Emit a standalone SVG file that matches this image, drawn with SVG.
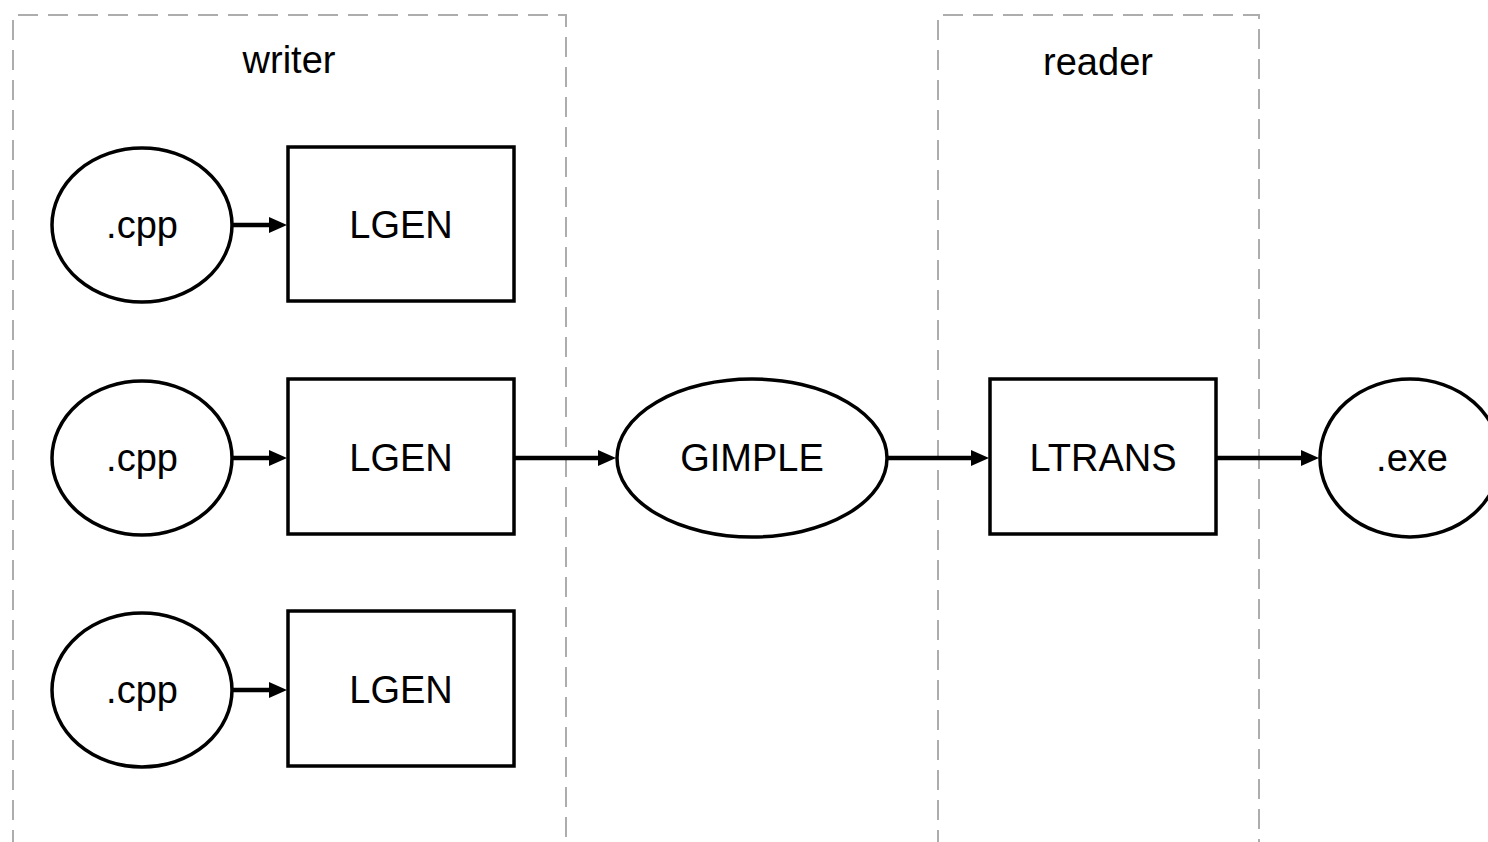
<svg xmlns="http://www.w3.org/2000/svg" width="1488" height="842" viewBox="0 0 1488 842">
<style>
.grp{fill:none;stroke:#adadad;stroke-width:2;stroke-dasharray:20 10}
.n{fill:#fff;stroke:#000;stroke-width:3.5}
.t{font-family:"Liberation Sans",Arial,sans-serif;font-size:38px;fill:#000;text-anchor:middle;dominant-baseline:central}
.c{stroke:#000;stroke-width:4.5;fill:none;marker-end:url(#ah)}
</style>
<defs>
<marker id="ah" viewBox="0 0 18 16" refX="8" refY="8" markerWidth="18" markerHeight="16" orient="auto" markerUnits="userSpaceOnUse">
<path d="M0,0L18,8L0,16z" fill="#000"/>
</marker>
</defs>
<rect width="1488" height="842" fill="#fff"/>
<g id="writer-group">
<path class="grp" d="M13,850V15H566V850"/>
<text class="t" x="289" y="60">writer</text>
</g>
<g id="reader-group">
<path class="grp" d="M938,850V15H1259V850"/>
<text class="t" x="1098" y="62">reader</text>
</g>
<g id="connectors">
<line class="c" x1="232" y1="225" x2="277" y2="225"/>
<line class="c" x1="232" y1="458" x2="277" y2="458"/>
<line class="c" x1="232" y1="690" x2="277" y2="690"/>
<line class="c" x1="514" y1="458" x2="606" y2="458"/>
<line class="c" x1="887" y1="458" x2="979" y2="458"/>
<line class="c" x1="1216" y1="458" x2="1309" y2="458"/>
</g>
<g id="cpp1"><ellipse class="n" cx="142" cy="225" rx="90" ry="77"/><text class="t" x="142" y="225">.cpp</text></g>
<g id="lgen1"><rect class="n" x="288" y="147" width="226" height="154"/><text class="t" x="401" y="225">LGEN</text></g>
<g id="cpp2"><ellipse class="n" cx="142" cy="458" rx="90" ry="77"/><text class="t" x="142" y="458">.cpp</text></g>
<g id="lgen2"><rect class="n" x="288" y="379" width="226" height="155"/><text class="t" x="401" y="458">LGEN</text></g>
<g id="cpp3"><ellipse class="n" cx="142" cy="690" rx="90" ry="77"/><text class="t" x="142" y="690">.cpp</text></g>
<g id="lgen3"><rect class="n" x="288" y="611" width="226" height="155"/><text class="t" x="401" y="690">LGEN</text></g>
<g id="gimple"><ellipse class="n" cx="752" cy="458" rx="135" ry="79"/><text class="t" x="752" y="458">GIMPLE</text></g>
<g id="ltrans"><rect class="n" x="990" y="379" width="226" height="155"/><text class="t" x="1103" y="458">LTRANS</text></g>
<g id="exe"><ellipse class="n" cx="1410" cy="458" rx="90" ry="79"/><text class="t" x="1412" y="458">.exe</text></g>
</svg>
